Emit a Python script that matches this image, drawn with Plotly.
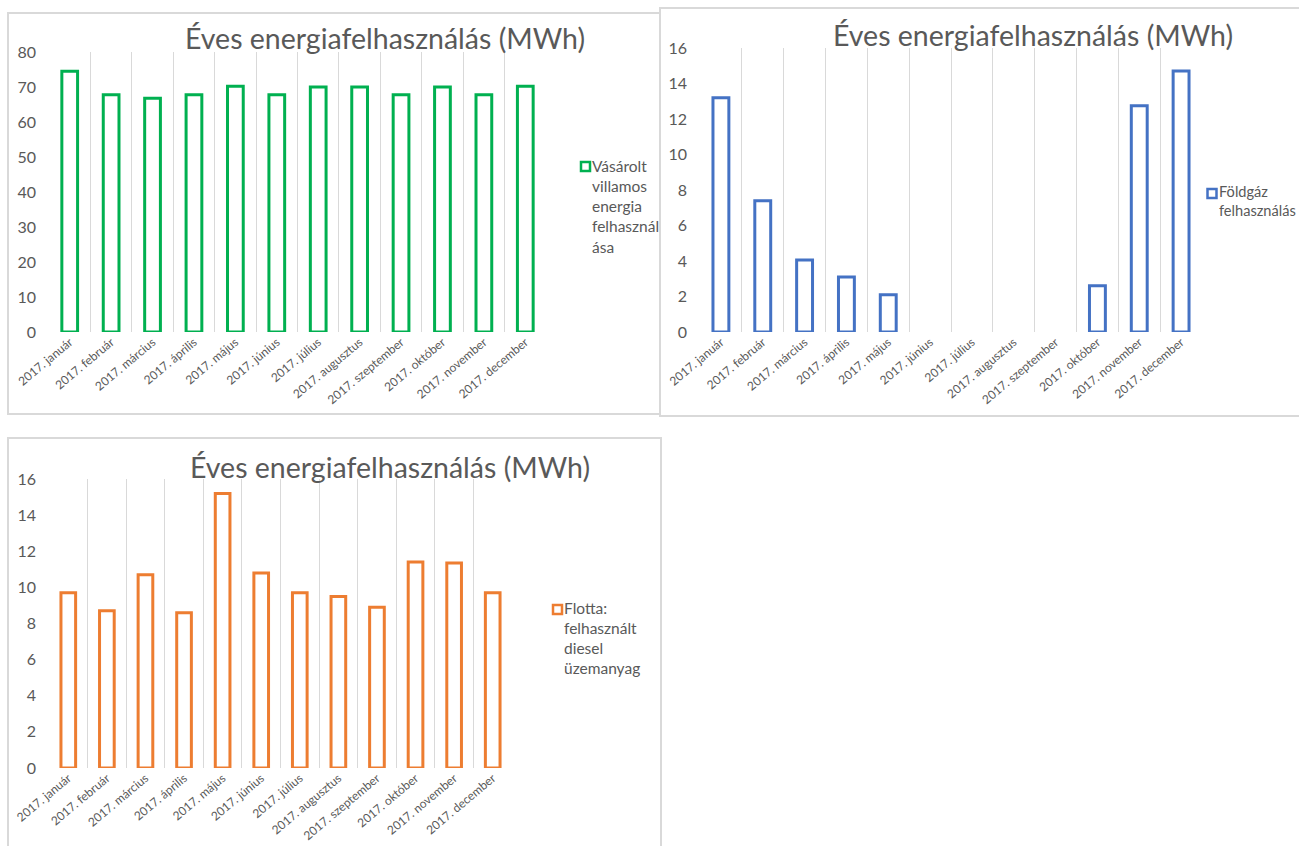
import plotly.graph_objects as go

W, H = 1299, 846

months = ["2017. január", "2017. február", "2017. március", "2017. április",
          "2017. május", "2017. június", "2017. július", "2017. augusztus",
          "2017. szeptember", "2017. október", "2017. november", "2017. december"]

villamos = [74.5, 67.8, 66.8, 67.8, 70.2, 67.8, 70.0, 70.0, 67.8, 70.0, 67.8, 70.2]
foldgaz = [13.2, 7.4, 4.05, 3.1, 2.1, None, None, None, None, 2.6, 12.75, 14.7]
flotta = [9.7, 8.7, 10.7, 8.6, 15.2, 10.8, 9.7, 9.5, 8.9, 11.4, 11.35, 9.7]

names = ["Vásárolt<br>villamos<br>energia<br>felhasznál<br>ása",
         "Földgáz<br>felhasználás",
         "Flotta:<br>felhasznált<br>diesel<br>üzemanyag"]
colors = ["#00B050", "#4472C4", "#ED7D31"]
title_text = "Éves energiafelhasználás (MWh)"

FONT = "Lato"
GREY = "#595959"


def px(x):
    return x / W


def py(y):
    return 1 - y / H


fig = go.Figure()
series = [villamos, foldgaz, flotta]
for i, (vals, nm, col) in enumerate(zip(series, names, colors)):
    sfx = "" if i == 0 else str(i + 1)
    fig.add_trace(go.Bar(
        x=months, y=vals, name=nm.replace("<br>", " "),
        marker=dict(color="white", line=dict(color=col, width=3)),
        width=0.38,
        xaxis="x" + sfx, yaxis="y" + sfx,
        showlegend=False,
    ))

# panel geometry (page pixels)
panels = [
    dict(x0=49, x1=546, ybot=332, ytop=52, rng=[0, 80], dt=10,
         box=(8, 13, 660, 414), tx=385, ty=38,
         sym=(581, 590, 162, 171), lx=591, ly=167, lfs=15.5),
    dict(x0=700, x1=1202, ybot=332, ytop=48, rng=[0, 16], dt=2,
         box=(660, 8, 1320, 416), tx=1033, ty=35,
         sym=(1207.5, 1216.5, 189, 198), lx=1218, ly=193, lfs=14.6),
    dict(x0=49, x1=512, ybot=768, ytop=479, rng=[0, 16], dt=2,
         box=(8, 438, 661, 880), tx=390, ty=467,
         sym=(553, 562, 605, 614), lx=563, ly=609, lfs=15.5),
]

shapes = []
annotations = []
layout = {}
for i, p in enumerate(panels):
    sfx = "" if i == 0 else str(i + 1)
    layout["xaxis" + sfx] = dict(
        domain=[px(p["x0"]), px(p["x1"])], anchor="y" + sfx,
        type="category", tickson="boundaries", showgrid=True,
        gridcolor="#D9D9D9", gridwidth=1, ticks="", showline=False,
        tickangle=-40, tickfont=dict(family=FONT, size=12, color=GREY),
        zeroline=False, fixedrange=True, automargin=False,
    )
    layout["yaxis" + sfx] = dict(
        domain=[py(p["ybot"]), py(p["ytop"])], anchor="x" + sfx,
        range=p["rng"], dtick=p["dt"], showgrid=False, zeroline=False,
        showline=False, ticks="", ticklabelstandoff=12, automargin=False,
        tickfont=dict(family=FONT, size=16, color=GREY),
    )
    bx0, by0, bx1, by1 = p["box"]
    shapes.append(dict(type="rect", xref="paper", yref="paper",
                       x0=px(bx0), x1=px(bx1), y0=py(by1), y1=py(by0),
                       line=dict(color="#D9D9D9", width=2),
                       fillcolor="rgba(0,0,0,0)", layer="below"))
    annotations.append(dict(text=title_text, xref="paper", yref="paper",
                            x=px(p["tx"]), y=py(p["ty"]), xanchor="center",
                            yanchor="middle", showarrow=False,
                            font=dict(family=FONT, size=28.5, color=GREY)))
    # legend: outlined square + wrapped series name
    sx0, sx1, sy0, sy1 = p["sym"]
    shapes.append(dict(type="rect", xref="paper", yref="paper",
                       x0=px(sx0), x1=px(sx1), y0=py(sy1), y1=py(sy0),
                       line=dict(color=colors[i], width=2.5),
                       fillcolor="white"))
    annotations.append(dict(text=names[i], xref="paper", yref="paper",
                            x=px(p["lx"]), y=py(p["ly"] - 11),
                            xanchor="left", yanchor="top", align="left",
                            showarrow=False, borderpad=0,
                            font=dict(family=FONT, size=p["lfs"], color=GREY)))

fig.update_layout(
    width=W, height=H, autosize=False,
    margin=dict(l=0, r=0, t=0, b=0, pad=0, autoexpand=False),
    paper_bgcolor="white", plot_bgcolor="white",
    hovermode=False,
    shapes=shapes, annotations=annotations,
    **layout,
)

fig.write_html("out.html",
               config={"displayModeBar": False},
               post_script="document.body.style.margin='0';"
                           "document.body.style.overflow='hidden';")
